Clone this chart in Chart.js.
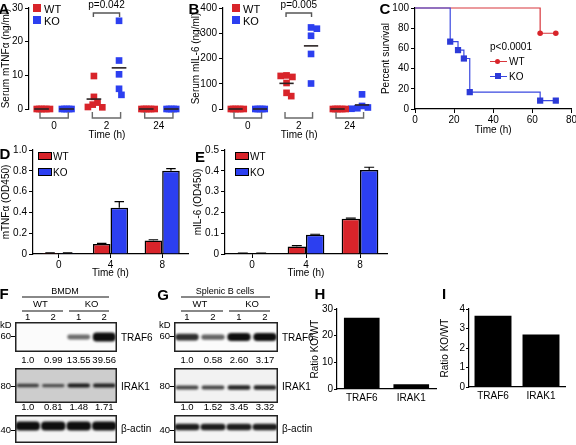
<!DOCTYPE html>
<html><head><meta charset="utf-8">
<script src="https://cdn.jsdelivr.net/npm/chart.js@4.4.1/dist/chart.umd.min.js"></script>
<style>
html,body{margin:0;padding:0;background:#fff;}
#wrap{position:relative;width:576px;height:445px;overflow:hidden;font-family:"Liberation Sans",Arial,Helvetica,sans-serif;color:#000;}
canvas{position:absolute;}
.t{position:absolute;white-space:nowrap;font-size:10px;line-height:1;}
.b{position:absolute;}
</style></head><body><div id="wrap"></div>
<script>
// ---------------- DATA ----------------
const timeGroups = ['0', '2', '24'];
const aWT = [[0,0,0,0,0,0],[9.8,3.6,1.9,1.3,0.6,0.5],[0,0,0,0,0,0]];
const aKO = [[0,0,0,0,0],[26.2,14.4,10.3,6.0,4.2],[0,0,0,0,0]];
const bWT = [[0,0,0,0,0,0],[133,127,131,103,64,51],[0,0,0,0,0,0]];
const bKO = [[0,0,0,0,0],[323,318,290,218,101],[58,12,6,3,1]];
const survTimeWT = [0, 64, 72];
const survWT = [100, 75, 75];
const survTimeKO = [0, 18, 22, 25, 28, 64, 72];
const survKO = [100, 66.7, 58.3, 50, 16.7, 8.3, 8.3];
const odTimes = ['0', '4', '8'];
const dWT = [0.01, 0.096, 0.13], dWTerr = [0.002, 0.006, 0.007];
const dKO = [0.008, 0.445, 0.80], dKOerr = [0.002, 0.058, 0.02];
const eWT = [0.003, 0.036, 0.17], eWTerr = [0.001, 0.004, 0.002];
const eKO = [0.003, 0.092, 0.404], eKOerr = [0.001, 0.003, 0.013];
const laneNums = ['1', '2', '1', '2'];
const fTraf6Band = [0, 0, 0.4, 1];
const fIrak1Band = [0.6, 0.5, 0.85, 0.8];
const fActinBand = [1, 1, 1, 1];
const gTraf6Band = [0.75, 0.45, 1, 1];
const gIrak1Band = [0.6, 0.6, 0.8, 0.8];
const gActinBand = [0.85, 0.85, 0.85, 0.85];
const fTraf6Quant = ['1.0', '0.99', '13.55', '39.56'];
const fIrak1Quant = ['1.0', '0.81', '1.48', '1.71'];
const gTraf6Quant = ['1.0', '0.58', '2.60', '3.17'];
const gIrak1Quant = ['1.0', '1.52', '3.45', '3.32'];
const ratioProteins = ['TRAF6', 'IRAK1'];
const hRatio = [26.7, 1.8];
const iRatio = [3.65, 2.69];

// ---------------- SETUP ----------------
const FF = '"Liberation Sans", Arial, Helvetica, sans-serif';
const RED = '#d8242a', BLUE = '#2c3ff0';
Chart.defaults.font.family = FF;
Chart.defaults.font.size = 10;
Chart.defaults.color = '#000';
Chart.defaults.animation = false;
Chart.defaults.responsive = false;
Chart.defaults.devicePixelRatio = 1;
Chart.defaults.plugins.legend.display = false;
Chart.defaults.plugins.tooltip.enabled = false;
Chart.defaults.events = [];
const wrap = document.getElementById('wrap');

function mk(x, y, w, h) {
  const c = document.createElement('canvas');
  c.width = w; c.height = h;
  c.style.left = x + 'px'; c.style.top = y + 'px';
  c.style.width = w + 'px'; c.style.height = h + 'px';
  wrap.appendChild(c);
  return c;
}
function txt(s, x, y, o = {}) {
  const d = document.createElement('div');
  d.className = 't';
  d.textContent = s;
  d.style.left = x + 'px'; d.style.top = y + 'px';
  const a = o.a || 'c';
  d.style.transform = `translate(${a === 'c' ? '-50%' : a === 'r' ? '-100%' : '0'},-50%)`;
  if (o.size) d.style.fontSize = o.size + 'px';
  if (o.bold) d.style.fontWeight = 'bold';
  wrap.appendChild(d);
  return d;
}
function box(x, y, w, h, bg, border) {
  const d = document.createElement('div');
  d.className = 'b';
  d.style.left = x + 'px'; d.style.top = y + 'px';
  d.style.width = w + 'px'; d.style.height = h + 'px';
  d.style.background = bg;
  if (border) { d.style.boxSizing = 'border-box'; d.style.border = border; }
  wrap.appendChild(d);
  return d;
}
function yAx(min, max, step, title, width, tl = 4, pad = 2) {
  return {
    min, max,
    ticks: { stepSize: step, color: '#000', padding: pad, font: { size: 10 } },
    grid: { display: true, drawOnChartArea: false, drawTicks: true, tickLength: tl, color: '#000', lineWidth: 1 },
    border: { display: true, color: '#000', width: 1.2 },
    title: { display: !!title, text: title, color: '#000', font: { size: 10 }, padding: { top: 0, bottom: 0 } },
    afterFit: s => { s.width = width; }
  };
}
// simple beeswarm: identical values overlap closely, near values are pushed further apart
function swarmOffsets(vals, pxY) {
  const placed = [], out = [];
  for (const v of vals) {
    for (let k = 0; k < 120; k++) {
      const o = (k % 2 ? 1 : -1) * Math.ceil(k / 2) * 1.2;
      let ok = true;
      for (const p of placed) {
        const dy = (p.v - v) * pxY, dx = p.o - o;
        const sx = dy === 0 ? 2.4 : 5, sy = 7;
        if ((dx / sx) ** 2 + (dy / sy) ** 2 < 1) { ok = false; break; }
      }
      if (ok) { placed.push({ o, v }); out.push(o); break; }
    }
  }
  return out;
}

// ---------------- A / B dot plots ----------------
function dotPanel(o) {
  const H = 142, top = 5, bottom = 109;
  const cv = mk(o.left, 0, o.w, H);
  const pxY = (bottom - top) / o.yMax;
  const pxX = (o.w - o.axisW - o.padR) / (o.xMax - o.xMin);
  const side = 0.24;
  const pts = (groups, sgn) => groups.flatMap((vals, g) => {
    const offs = swarmOffsets(vals, pxY);
    return vals.map((v, i) => ({ x: g + sgn * side + offs[i] / pxX, y: v }));
  });
  const mean = a => a.reduce((s, v) => s + v, 0) / a.length;
  const meanSets = [];
  [[o.wt, -1], [o.ko, 1]].forEach(([groups, sgn]) => groups.forEach((vals, g) => {
    const m = mean(vals), c = g + sgn * side;
    meanSets.push({ type: 'line', data: [{ x: c - 0.14, y: m }, { x: c + 0.14, y: m }], borderColor: '#2a2222', borderWidth: 1.6, pointRadius: 0, showLine: true, clip: false });
  }));
  const brackets = {
    id: 'brk',
    afterDraw(c) {
      const ctx = c.ctx, X = c.scales.x, a = c.chartArea;
      ctx.save();
      ctx.strokeStyle = '#6a6a6a'; ctx.lineWidth = 1.4;
      for (let g = 0; g < 3; g++) {
        const x1 = X.getPixelForValue(g - 0.27), x2 = X.getPixelForValue(g + 0.27);
        ctx.beginPath();
        ctx.moveTo(x1, a.bottom + 3); ctx.lineTo(x1, a.bottom + 9); ctx.lineTo(x2, a.bottom + 9); ctx.lineTo(x2, a.bottom + 3);
        ctx.stroke();
      }
      const p1 = X.getPixelForValue(1 - 0.25), p2 = X.getPixelForValue(1 + 0.25);
      ctx.strokeStyle = '#555';
      ctx.beginPath();
      ctx.moveTo(p1, 17); ctx.lineTo(p1, 13); ctx.lineTo(p2, 13); ctx.lineTo(p2, 17);
      ctx.stroke();
      ctx.fillStyle = '#000'; ctx.font = '10px ' + FF; ctx.textAlign = 'center'; ctx.textBaseline = 'middle';
      ctx.fillText(o.pText, (p1 + p2) / 2, 5.5);
      ctx.restore();
    }
  };
  new Chart(cv, {
    type: 'scatter',
    data: { datasets: [...meanSets,
      { data: pts(o.wt, -1), backgroundColor: RED, pointStyle: 'rect', pointRadius: 4.7, borderWidth: 0, clip: false },
      { data: pts(o.ko, 1), backgroundColor: BLUE, pointStyle: 'rect', pointRadius: 4.7, borderWidth: 0, clip: false }] },
    options: {
      layout: { padding: { top: top, right: o.padR, left: 0, bottom: 0 } },
      scales: {
        x: {
          type: 'linear', min: o.xMin, max: o.xMax,
          afterBuildTicks: ax => { ax.ticks = [0, 1, 2].map(v => ({ value: v })); },
          ticks: { callback: v => timeGroups[v], padding: 11, font: { size: 10 } },
          grid: { display: false, drawTicks: false },
          border: { display: false },
          title: { display: true, text: 'Time (h)', font: { size: 10 }, padding: { top: 0, bottom: 1 } },
          afterFit: s => { s.height = H - bottom; }
        },
        y: yAx(0, o.yMax, o.yStep, o.yTitle, o.axisW)
      }
    },
    plugins: [brackets]
  });
}
dotPanel({ left: 0, w: 190, axisW: 29, padR: 5, xMin: -0.48, xMax: 2.5, yMax: 30, yStep: 10, yTitle: 'Serum mTNFα (ng/ml)', wt: aWT, ko: aKO, pText: 'p=0.042' });
dotPanel({ left: 190, w: 190, axisW: 33, padR: 1, xMin: -0.486, xMax: 2.5, yMax: 400, yStep: 100, yTitle: 'Serum mIL-6 (ng/ml)', wt: bWT, ko: bKO, pText: 'p=0.005' });

// legends A/B
box(33, 4, 8, 8, RED); txt('WT', 44, 8.5, { a: 'l', size: 11 });
box(33, 16, 8, 8, BLUE); txt('KO', 44, 20.5, { a: 'l', size: 11 });
box(232, 4, 8, 8, RED); txt('WT', 243, 8.5, { a: 'l', size: 11 });
box(232, 16, 8, 8, BLUE); txt('KO', 243, 20.5, { a: 'l', size: 11 });

// ---------------- C survival ----------------
(function () {
  const cv = mk(380, 0, 198, 137);
  new Chart(cv, {
    type: 'line',
    data: { datasets: [
      { data: survTimeKO.map((t, i) => ({ x: t, y: survKO[i] })), stepped: 'before', borderColor: '#3a48e0', borderWidth: 1.2,
        pointStyle: 'rect', pointRadius: survTimeKO.map((t, i) => i === 0 ? 0 : 4.4), pointBackgroundColor: '#2c3ad8', pointBorderWidth: 0, clip: false },
      { data: survTimeWT.map((t, i) => ({ x: t, y: survWT[i] })), stepped: 'before', borderColor: '#d8363c', borderWidth: 1.2,
        pointStyle: 'circle', pointRadius: survTimeWT.map((t, i) => i === 0 ? 0 : 2.8), pointBackgroundColor: '#d8242a', pointBorderWidth: 0, clip: false }
    ] },
    options: {
      layout: { padding: { top: 5, right: 4, left: 0, bottom: 0 } },
      scales: {
        x: {
          type: 'linear', min: 0, max: 80,
          ticks: { stepSize: 20, padding: 1, font: { size: 10 } },
          grid: { display: true, drawOnChartArea: false, tickLength: 4, color: '#000' },
          border: { display: true, color: '#000', width: 1.2 },
          title: { display: true, text: 'Time (h)', font: { size: 10 }, padding: { top: 0, bottom: 1 } },
          afterFit: s => { s.height = 28; }
        },
        y: yAx(0, 100, 20, 'Percent survival', 35)
      }
    }
  });
})();
txt('p<0.0001', 490, 47, { a: 'l', size: 10 });
box(490, 60.5, 17, 1.2, '#d8363c');
(function () { const d = box(495, 58.5, 5, 5, '#d8242a'); d.style.borderRadius = '50%'; })();
txt('WT', 509, 61.5, { a: 'l', size: 10 });
box(490, 75.5, 17, 1.2, '#3a48e0');
box(495, 73, 6, 6, '#2c3ad8');
txt('KO', 509, 76.5, { a: 'l', size: 10 });

// ---------------- D / E bar charts ----------------
const errPlugin = {
  id: 'err',
  afterDatasetsDraw(c) {
    const ctx = c.ctx, Y = c.scales.y;
    c.data.datasets.forEach((ds, di) => {
      if (!ds.errors) return;
      c.getDatasetMeta(di).data.forEach((bar, i) => {
        const e = ds.errors[i];
        if (!e) return;
        const top = Y.getPixelForValue(ds.data[i] + e), cw = bar.width * 0.27;
        ctx.save(); ctx.strokeStyle = '#000'; ctx.lineWidth = 1.2;
        ctx.beginPath();
        ctx.moveTo(bar.x, bar.y); ctx.lineTo(bar.x, top);
        ctx.moveTo(bar.x - cw, top); ctx.lineTo(bar.x + cw, top);
        ctx.stroke(); ctx.restore();
      });
    });
  }
};
function odPanel(o) {
  const cv = mk(o.left, 142, o.w, 138);
  new Chart(cv, {
    type: 'bar',
    data: { labels: odTimes, datasets: [
      { data: o.wt, errors: o.wtErr, backgroundColor: RED, borderColor: '#000', borderWidth: 1.5, categoryPercentage: 0.68, barPercentage: 1 },
      { data: o.ko, errors: o.koErr, backgroundColor: BLUE, borderColor: '#000', borderWidth: 1.5, categoryPercentage: 0.68, barPercentage: 1 }
    ] },
    options: {
      layout: { padding: { top: 8, right: o.padR, left: 0, bottom: 0 } },
      scales: {
        x: {
          grid: { display: true, drawOnChartArea: false, offset: false, tickLength: 4, color: '#000' },
          border: { display: true, color: '#000', width: 1.2 },
          ticks: { padding: 1.5, font: { size: 10 } },
          title: { display: true, text: 'Time (h)', font: { size: 10 }, padding: { top: 0, bottom: 1 } },
          afterFit: s => { s.height = 26; }
        },
        y: yAx(0, o.yMax, o.yStep, o.yTitle, o.axisW)
      }
    },
    plugins: [errPlugin]
  });
}
odPanel({ left: 0, w: 190, axisW: 33, padR: 2, yMax: 1, yStep: 0.2, yTitle: 'mTNFα (OD450)', wt: dWT, wtErr: dWTerr, ko: dKO, koErr: dKOerr });
odPanel({ left: 192, w: 196, axisW: 33, padR: 1, yMax: 0.5, yStep: 0.1, yTitle: 'mIL-6 (OD450)', wt: eWT, wtErr: eWTerr, ko: eKO, koErr: eKOerr });
box(38, 152, 14, 8, RED, '1.5px solid #000'); txt('WT', 53, 156.5, { a: 'l', size: 10 });
box(38, 168, 14, 8, BLUE, '1.5px solid #000'); txt('KO', 53, 172.5, { a: 'l', size: 10 });
box(235, 152, 14, 8, RED, '1.5px solid #000'); txt('WT', 250, 156.5, { a: 'l', size: 10 });
box(235, 168, 14, 8, BLUE, '1.5px solid #000'); txt('KO', 250, 172.5, { a: 'l', size: 10 });

// ---------------- F / G blots ----------------
function blot(x, y, w, h, bands, st) {
  const cv = mk(x, y, w, h);
  const half = h / 2;
  const th = v => st.minT + v * (st.maxT - st.minT);
  new Chart(cv, {
    type: 'bar',
    data: { labels: laneNums, datasets: [{
      data: bands.map(v => v > 0 ? [st.off - th(v) / 2, st.off + th(v) / 2] : null),
      backgroundColor: bands.map(v => `rgba(14,14,14,${Math.min(1, 0.3 + 0.75 * v)})`),
      borderWidth: 0, borderRadius: st.rad, borderSkipped: false, barPercentage: st.bp, categoryPercentage: 1
    }] },
    options: {
      layout: { padding: 0 },
      scales: { x: { display: false }, y: { display: false, min: -half, max: half } }
    },
    plugins: [{
      id: 'blotbg',
      beforeDraw(c) { const ctx = c.ctx; ctx.save(); ctx.fillStyle = st.bg; ctx.fillRect(0, 0, w, h); ctx.restore(); },
      beforeDatasetsDraw(c) { c.ctx.save(); c.ctx.filter = `blur(${st.blur}px)`; },
      afterDatasetsDraw(c) { c.ctx.restore(); },
      afterDraw(c) { const ctx = c.ctx; ctx.save(); ctx.strokeStyle = '#222'; ctx.lineWidth = 1.5; ctx.strokeRect(0.75, 0.75, w - 1.5, h - 1.5); ctx.restore(); }
    }]
  });
}
function blotPanel(o) {
  const L = o.x, W = o.w;
  blot(L, 322, W, 30, o.traf6, { minT: o.tT[0], maxT: o.tT[1], off: 0, bp: 0.9, rad: 4, bg: '#fbfbfb', blur: 1.1 });
  blot(L, 368, W, 35, o.irak1, { minT: o.iT[0], maxT: o.iT[1], off: o.iOff, bp: 0.88, rad: 3, bg: o.iBg, blur: 1 });
  blot(L, 415, W, 28, o.actin, { minT: o.aT[0], maxT: o.aT[1], off: o.aOff, bp: 0.96, rad: 4, bg: '#f4f4f4', blur: 1.1 });
  const lane = i => L + W * (i + 0.5) / 4;
  laneNums.forEach((n, i) => txt(n, lane(i), 317, { size: 9.5 }));
  o.q1.forEach((n, i) => txt(n, lane(i), 360, { size: 9.5 }));
  o.q2.forEach((n, i) => txt(n, lane(i), 407, { size: 9.5 }));
  txt(o.title, (L + 6 + L + W - 8) / 2, 291, { size: 9 });
  box(L + 7, 296, W - 15, 1.5, '#888');
  txt('WT', (lane(0) + lane(1)) / 2, 304, { size: 9.5 });
  txt('KO', (lane(2) + lane(3)) / 2, 304, { size: 9.5 });
  box(L + 7, 310, (W - 15) / 2 - 3, 1.5, '#888');
  box(L + 7 + (W - 15) / 2 + 3, 310, (W - 15) / 2 - 3, 1.5, '#888');
  txt('kD', L - 15, 325, { a: 'l', size: 9.5 });
  [['60', 336], ['80', 386], ['40', 430]].forEach(([s, yy]) => {
    txt(s, L - 4, yy, { a: 'r', size: 9.5 });
    box(L - 4, yy - 0.5, 4, 1.2, '#000');
  });
  txt('TRAF6', L + W + 4, 338, { a: 'l', size: 10 });
  txt('IRAK1', L + W + 4, 387, { a: 'l', size: 10 });
  txt('β-actin', L + W + 4, 429, { a: 'l', size: 10 });
}
blotPanel({ x: 15, w: 102, title: 'BMDM', traf6: fTraf6Band, irak1: fIrak1Band, actin: fActinBand,
  tT: [2, 9], iT: [2, 4.5], iOff: 0, iBg: '#cdcdcd', aT: [4, 9], aOff: 3, q1: fTraf6Quant, q2: fIrak1Quant });
blotPanel({ x: 174, w: 104, title: 'Splenic B cells', traf6: gTraf6Band, irak1: gIrak1Band, actin: gActinBand,
  tT: [3, 8], iT: [2.5, 5], iOff: -2, iBg: '#f2f2f2', aT: [4, 7], aOff: 2, q1: gTraf6Quant, q2: gIrak1Quant });

// ---------------- H / I ratio bars ----------------
function ratioPanel(o) {
  const cv = mk(o.left, 300, o.w, 110);
  new Chart(cv, {
    type: 'bar',
    data: { labels: ratioProteins, datasets: [{ data: o.vals, backgroundColor: '#000', borderWidth: 0, barPercentage: o.bp, categoryPercentage: 1 }] },
    options: {
      layout: { padding: { top: 9, right: o.padR, left: 0, bottom: 0 } },
      scales: {
        x: {
          grid: { display: false, drawTicks: false },
          border: { display: true, color: '#000', width: 1.2 },
          ticks: { padding: 3, font: { size: 10 } },
          afterFit: s => { s.height = o.xH; }
        },
        y: yAx(0, o.yMax, o.yStep, 'Ratio KO/WT', o.axisW, 3, 1)
      }
    }
  });
}
ratioPanel({ left: 309, w: 131, axisW: 28, padR: 4, xH: 21, yMax: 30, yStep: 10, vals: hRatio, bp: 0.72 });
ratioPanel({ left: 439, w: 134, axisW: 30, padR: 8, xH: 23, yMax: 4, yStep: 1, vals: iRatio, bp: 0.77 });

// ---------------- panel letters ----------------
[['A', 4, 8], ['B', 194, 8], ['C', 385, 8], ['D', 5, 153], ['E', 200, 156],
 ['F', 4, 293], ['G', 163, 294], ['H', 320, 293], ['I', 444, 293]].forEach(([s, x, y]) => txt(s, x, y, { size: 15, bold: true }));
</script></body></html>
